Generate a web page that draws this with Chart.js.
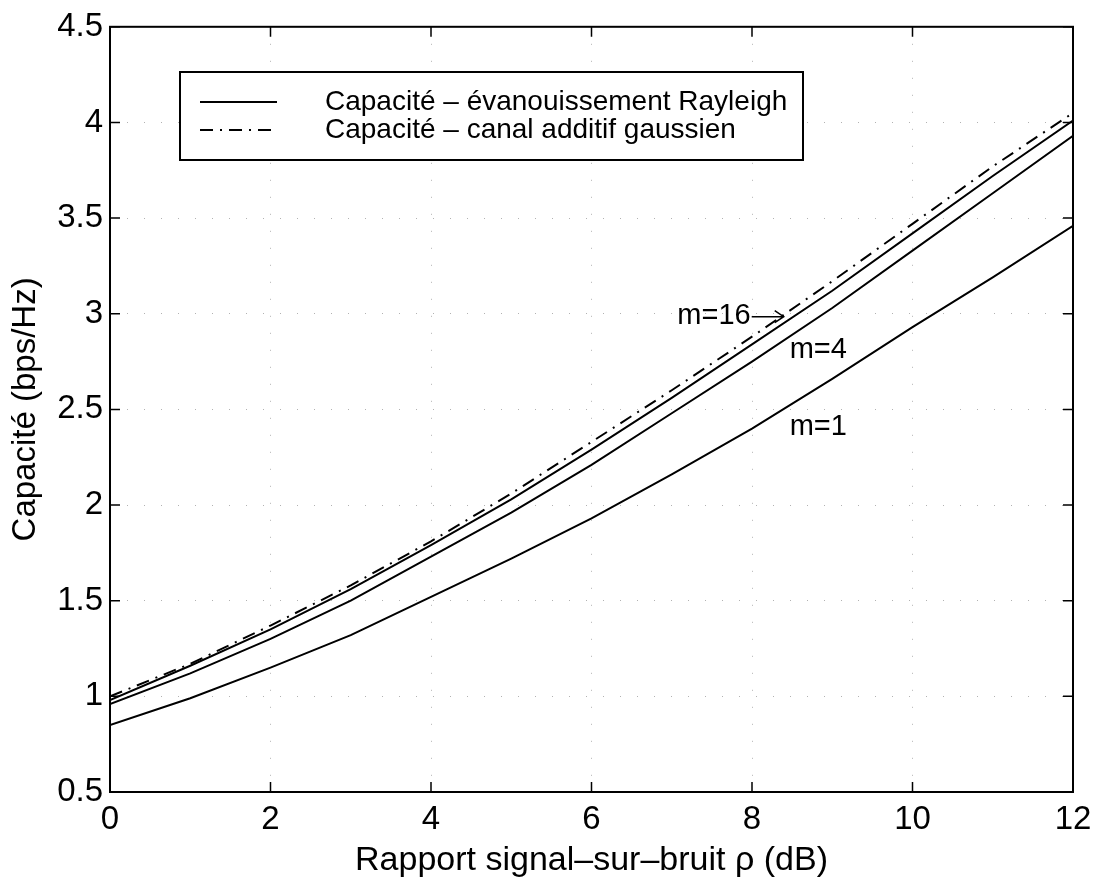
<!DOCTYPE html>
<html>
<head>
<meta charset="utf-8">
<script src="https://cdn.jsdelivr.net/npm/chart.js@4.4.1/dist/chart.umd.min.js"></script>
<style>
  html, body { margin: 0; padding: 0; background: #fff; }
  #wrap { width: 1104px; height: 881px; }
</style>
</head>
<body>
<div id="wrap"><canvas id="chart1" width="1104" height="881"></canvas></div>
<script>
// rapport signal-sur-bruit (dB)
var snrDb = [0, 1, 2, 3, 4, 5, 6, 7, 8, 9, 10, 11, 12];
// capacite, evanouissement Rayleigh/Nakagami
var capM1  = [0.85, 0.99, 1.15, 1.32, 1.52, 1.72, 1.93, 2.16, 2.40, 2.66, 2.93, 3.19, 3.46];
var capM4  = [0.96, 1.12, 1.30, 1.50, 1.73, 1.96, 2.21, 2.48, 2.75, 3.03, 3.33, 3.63, 3.93];
var capM16 = [0.98, 1.16, 1.35, 1.56, 1.79, 2.03, 2.29, 2.56, 2.84, 3.12, 3.42, 3.72, 4.01];
// capacite, canal additif gaussien
var capAwgn = [1.00, 1.17, 1.37, 1.58, 1.81, 2.06, 2.33, 2.60, 2.88, 3.17, 3.47, 3.77, 4.05];

var xTicks = [0, 2, 4, 6, 8, 10, 12];
var yTicks = [0.5, 1, 1.5, 2, 2.5, 3, 3.5, 4, 4.5];

var legendLabels = ["Capacité – évanouissement Rayleigh", "Capacité – canal additif gaussien"];
var curveNotes = [
  { text: "m=16", x: 7.07, y: 2.99, arrow: true },
  { text: "m=4",  x: 8.47, y: 2.81 },
  { text: "m=1",  x: 8.47, y: 2.41 }
];

var FONT = "'Liberation Sans', Arial, Helvetica, sans-serif";
var dashDot = [13, 7, 2, 7];

function pts(ys) {
  return snrDb.map(function (x, i) { return { x: x, y: ys[i] }; });
}

function lineSet(label, ys, dash) {
  return {
    label: label,
    data: pts(ys),
    borderColor: "#000",
    borderWidth: 2,
    borderDash: dash,
    pointRadius: 0,
    tension: 0,
    fill: false
  };
}

var framePlugin = {
  id: "frame",
  afterDraw: function (chart) {
    var ctx = chart.ctx;
    var a = chart.chartArea;
    var xs = chart.scales.x, ys = chart.scales.y;
    ctx.save();
    ctx.strokeStyle = "#000";
    ctx.lineWidth = 2;
    ctx.setLineDash([]);
    ctx.strokeRect(a.left, a.top, a.right - a.left, a.bottom - a.top);

    // ticks vers l'interieur, quatre cotes
    var tl = 10;
    ctx.lineWidth = 1.5;
    ctx.beginPath();
    xTicks.forEach(function (v) {
      var px = xs.getPixelForValue(v);
      ctx.moveTo(px, a.bottom); ctx.lineTo(px, a.bottom - tl);
      ctx.moveTo(px, a.top); ctx.lineTo(px, a.top + tl);
    });
    yTicks.forEach(function (v) {
      var py = ys.getPixelForValue(v);
      ctx.moveTo(a.left, py); ctx.lineTo(a.left + tl, py);
      ctx.moveTo(a.right, py); ctx.lineTo(a.right - tl, py);
    });
    ctx.stroke();

    // legende
    var bx = 180, by = 72, bw = 623, bh = 88;
    ctx.fillStyle = "#fff";
    ctx.fillRect(bx, by, bw, bh);
    ctx.lineWidth = 2;
    ctx.strokeRect(bx, by, bw, bh);
    var rows = [102, 130];
    var dashes = [[], dashDot];
    ctx.font = "28px " + FONT;
    ctx.fillStyle = "#000";
    ctx.textBaseline = "middle";
    ctx.textAlign = "left";
    rows.forEach(function (ry, i) {
      ctx.setLineDash(dashes[i]);
      ctx.lineWidth = 2;
      ctx.beginPath();
      ctx.moveTo(200, ry); ctx.lineTo(277, ry);
      ctx.stroke();
      ctx.setLineDash([]);
      ctx.fillText(legendLabels[i], 325, ry);
    });

    // etiquettes des courbes
    ctx.font = "29px " + FONT;
    curveNotes.forEach(function (n) {
      var px = xs.getPixelForValue(n.x), py = ys.getPixelForValue(n.y);
      ctx.fillText(n.text, px, py);
      if (n.arrow) {
        var x0 = px + ctx.measureText(n.text).width + 1, x1 = x0 + 32;
        ctx.lineWidth = 1.5;
        ctx.beginPath();
        ctx.moveTo(x0, py + 1); ctx.lineTo(x1, py + 1);
        ctx.moveTo(x1 - 9, py - 5); ctx.lineTo(x1, py + 1); ctx.lineTo(x1 - 9, py + 7);
        ctx.stroke();
      }
    });
    ctx.restore();
  }
};

var gridStyle = {
  color: "rgba(0,0,0,0.3)",
  lineWidth: 1,
  drawTicks: false
};

function fmt(v) { return String(v); }

var datos = {
  type: "line",
  data: {
    datasets: [
      lineSet(legendLabels[0], capM1, []),
      lineSet(legendLabels[0], capM4, []),
      lineSet(legendLabels[0], capM16, []),
      lineSet(legendLabels[1], capAwgn, dashDot)
    ]
  },
  options: {
    responsive: false,
    animation: false,
    layout: { padding: { top: 22, right: 31, left: 0, bottom: 0 } },
    plugins: {
      legend: { display: false },
      tooltip: { enabled: false }
    },
    scales: {
      x: {
        type: "linear",
        min: 0,
        max: 12,
        afterBuildTicks: function (s) { s.ticks = xTicks.map(function (v) { return { value: v }; }); },
        afterFit: function (s) { s.height = 89; },
        grid: gridStyle,
        border: { display: false, dash: [1, 16] },
        ticks: { color: "#000", padding: 8, font: { family: FONT, size: 33 }, callback: fmt },
        title: {
          display: true,
          text: "Rapport signal–sur–bruit ρ (dB)",
          color: "#000",
          padding: { top: 0, bottom: 0 },
          font: { family: FONT, size: 34, lineHeight: 1.2 }
        }
      },
      y: {
        min: 0.5,
        max: 4.5,
        afterBuildTicks: function (s) { s.ticks = yTicks.map(function (v) { return { value: v }; }); },
        afterFit: function (s) { s.width = 110; },
        grid: gridStyle,
        border: { display: false, dash: [1, 16] },
        ticks: { color: "#000", padding: 7, font: { family: FONT, size: 33 }, callback: fmt },
        title: {
          display: true,
          text: "Capacité (bps/Hz)",
          color: "#000",
          padding: { top: 6, bottom: 0 },
          font: { family: FONT, size: 33, lineHeight: 1.2 }
        }
      }
    }
  },
  plugins: [framePlugin]
};

var canvas = document.getElementById("chart1").getContext("2d");
window.courbes = new Chart(canvas, datos);
</script>
</body>
</html>
